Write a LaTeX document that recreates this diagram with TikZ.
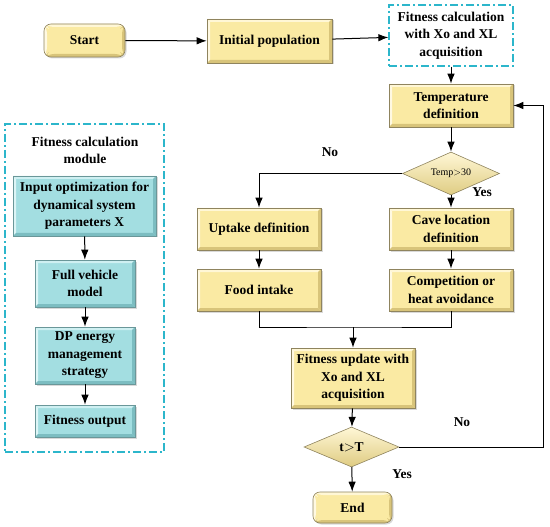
\documentclass[tikz,border=0pt]{standalone}
\usepackage{fontspec}
\setmainfont{Liberation Serif}
\usetikzlibrary{arrows.meta,shapes.geometric,shadows}
\definecolor{yfill}{HTML}{FAEAA3}
\definecolor{ylight}{HTML}{FFF7D6}
\definecolor{ydark}{HTML}{D8C47A}
\definecolor{yline}{HTML}{8F845E}
\definecolor{cfill}{HTML}{A3DEE1}
\definecolor{clight}{HTML}{CFF0F2}
\definecolor{cdark}{HTML}{7CBDC1}
\definecolor{cline}{HTML}{6A9799}
\definecolor{dashc}{HTML}{2CB6CB}
\newcommand\mybevel[2]{%
  \fill[#1] (path picture bounding box.north west) -- (path picture bounding box.north east)
    -- ([shift={(-3pt,-3pt)}]path picture bounding box.north east) -- ([shift={(3pt,-3pt)}]path picture bounding box.north west) -- cycle;
  \fill[#1!70!white] (path picture bounding box.north west) -- (path picture bounding box.south west)
    -- ([shift={(3pt,3pt)}]path picture bounding box.south west) -- ([shift={(3pt,-3pt)}]path picture bounding box.north west) -- cycle;
  \fill[#2] (path picture bounding box.south west) -- (path picture bounding box.south east)
    -- ([shift={(-3pt,3pt)}]path picture bounding box.south east) -- ([shift={(3pt,3pt)}]path picture bounding box.south west) -- cycle;
  \fill[#2] (path picture bounding box.north east) -- (path picture bounding box.south east)
    -- ([shift={(-3pt,3pt)}]path picture bounding box.south east) -- ([shift={(-3pt,-3pt)}]path picture bounding box.north east) -- cycle;
}
\begin{document}
\begin{tikzpicture}[x=1pt,y=-1pt,
  every node/.style={font=\fontsize{13.5}{17.5}\selectfont\bfseries, align=center, inner sep=1pt},
  ybox/.style={rectangle, fill=yfill, draw=yline, line width=0.6pt,
    path picture={\mybevel{ylight}{ydark}},
    drop shadow={opacity=0.3, shadow xshift=1.5pt, shadow yshift=-1.5pt}},
  cbox/.style={rectangle, fill=cfill, draw=cline, line width=0.6pt,
    path picture={\mybevel{clight}{cdark}},
    drop shadow={opacity=0.3, shadow xshift=1.5pt, shadow yshift=-1.5pt}},
  ydia/.style={diamond, aspect=2.3, top color=ylight, bottom color=ydark!80!yfill, draw=yline, line width=0.6pt, inner sep=0pt},
  dashbox/.style={draw=dashc, line width=1.3pt, dash pattern=on 8pt off 3pt on 2pt off 3pt},
  arr/.style={-{Latex[length=10pt,width=7.5pt]}, line width=1pt, black},
  ln/.style={line width=1pt, black},
  lbl/.style={font=\fontsize{13.5}{16}\selectfont\bfseries}]
\useasboundingbox (0,0) rectangle (550,527);

% main flow
\node[ybox, rounded corners=7pt, minimum width=81pt, minimum height=33pt] (start) at (84.5,40.5) {Start};
\node[ybox, minimum width=125pt, minimum height=44pt] (init) at (269.5,41) {Initial population};
\node[dashbox, minimum width=124pt, minimum height=61pt] (fit1) at (451,35.5) {Fitness calculation\\with Xo and XL\\acquisition};
\node[ybox, minimum width=124pt, minimum height=43pt] (temp) at (451,105.5) {Temperature\\definition};
\node[ydia, minimum width=97pt, minimum height=43pt] (d1) at (451,173.5) {\fontsize{10}{12}\selectfont\mdseries Temp$>$30};
\node[ybox, minimum width=124pt, minimum height=42pt] (uptake) at (259,229) {Uptake definition};
\node[ybox, minimum width=124pt, minimum height=42pt] (food) at (259,290) {Food intake};
\node[ybox, minimum width=124pt, minimum height=42pt] (cave) at (451,229) {Cave location\\definition};
\node[ybox, minimum width=124pt, minimum height=42pt] (comp) at (451,290) {Competition or\\heat avoidance};
\coordinate (join) at (353,327);
\node[ybox, minimum width=124pt, minimum height=60pt] (fitup) at (353,378) {Fitness update with\\Xo and XL\\acquisition};
\node[ydia, minimum width=95pt, minimum height=40pt] (d2) at (351.5,447) {t$>$T};
\node[ybox, rounded corners=7pt, minimum width=79pt, minimum height=31pt] (end) at (352.5,507.5) {End};
\coordinate (fbr) at (543,447);

\node[lbl] (no1) at (330,152) {No};
\node[lbl] (yes1) at (482,192) {Yes};
\node[lbl] (no2) at (462,422) {No};
\node[lbl] (yes2) at (402,474) {Yes};

\draw[arr] (start) -- (init);
\draw[arr] (init) -- (fit1);
\draw[arr] (fit1) -- (temp);
\draw[arr] (temp) -- (d1);
\draw[arr] (d1.west) -| (uptake.north);
\draw[arr] (d1.south) -- (cave.north);
\draw[arr] (uptake) -- (food);
\draw[arr] (cave) -- (comp);
\draw[ln] (food.south) |- (join) -| (comp.south);
\draw[arr] (join) -- (fitup.north);
\draw[arr] (fitup) -- (d2);
\draw[arr] (d2) -- (end);
\draw[arr] (d2.east) -- (fbr) |- (temp.east);

% left module
\node[dashbox, minimum width=159pt, minimum height=328pt] (module) at (84.5,288) {};
\node (mtitle) at (85,150.5) {Fitness calculation\\module};
\node[cbox, minimum width=143pt, minimum height=60pt] (inp) at (84.5,206) {Input optimization for\\dynamical system\\parameters X};
\node[cbox, minimum width=100pt, minimum height=47pt] (veh) at (85,283.5) {Full vehicle\\model};
\node[cbox, minimum width=100pt, minimum height=57pt] (dp) at (85,355.5) {DP energy\\management\\strategy};
\node[cbox, minimum width=100pt, minimum height=32pt] (out) at (85,421) {Fitness output};
\draw[arr] (inp) -- (veh);
\draw[arr] (veh) -- (dp);
\draw[arr] (dp) -- (out);
\end{tikzpicture}
\end{document}
